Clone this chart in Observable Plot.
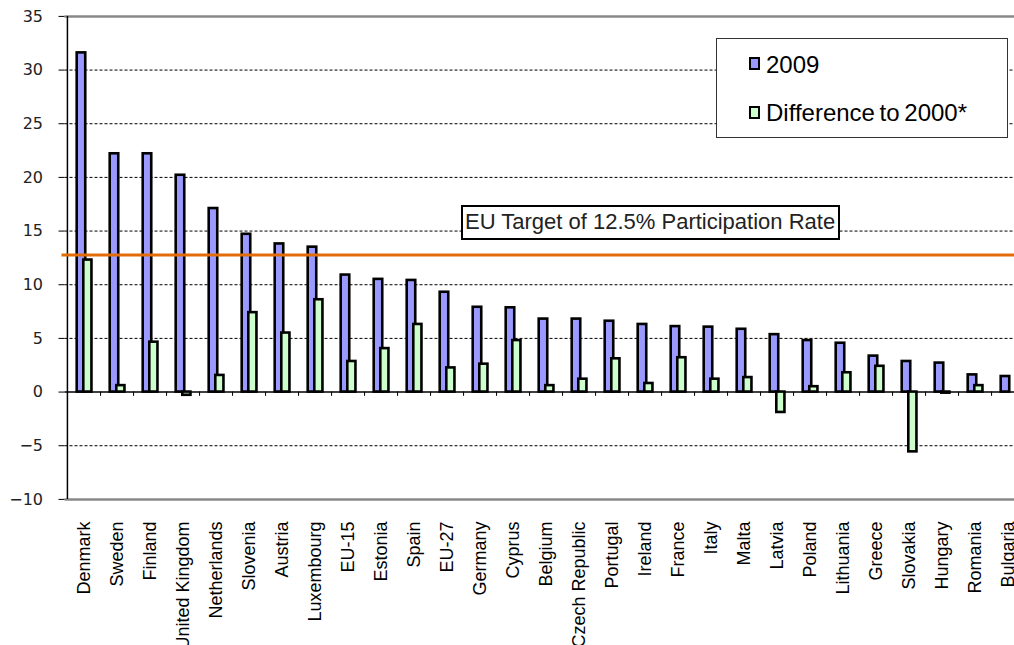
<!DOCTYPE html>
<html>
<head>
<meta charset="utf-8">
<script src="https://cdn.jsdelivr.net/npm/d3@7"></script>
<script src="https://cdn.jsdelivr.net/npm/@observablehq/plot@0.6"></script>
<style>
  html, body { margin: 0; padding: 0; overflow: hidden; background: #fff; }
  #wrap { position: relative; width: 1014px; height: 645px; overflow: hidden; background: #fff; }
  #chart { position: absolute; left: 0; top: 0; width: 1030px; }
  #chart svg { max-width: none !important; }
  .legend { position: absolute; left: 716px; top: 38px; width: 292px; height: 100px; border: 1px solid #333; background: #fff; box-sizing: border-box; }
  .sw { position: absolute; width: 11px; height: 13px; border: 2px solid #000; box-sizing: border-box; }
  .lt { position: absolute; font-family: "Liberation Sans", Arial, sans-serif; font-size: 24px; line-height: 24px; color: #000; white-space: nowrap; word-spacing: -2px; }
  .target { position: absolute; left: 461px; top: 205px; width: 379px; height: 35px; border: 2px solid #000; background: #fff; box-sizing: border-box; }
  .tt { position: absolute; left: 465px; top: 211px; font-family: "Liberation Sans", Arial, sans-serif; font-size: 22px; line-height: 22px; color: #222; white-space: nowrap; }
</style>
</head>
<body>
<div id="wrap">
  <div id="chart"></div>
</div>
<script>
const countries = ["Denmark","Sweden","Finland","United Kingdom","Netherlands","Slovenia","Austria","Luxembourg","EU-15","Estonia","Spain","EU-27","Germany","Cyprus","Belgium","Czech Republic","Portugal","Ireland","France","Italy","Malta","Latvia","Poland","Lithuania","Greece","Slovakia","Hungary","Romania","Bulgaria"];
const v2009 = [31.6, 22.2, 22.2, 20.2, 17.1, 14.7, 13.8, 13.5, 10.9, 10.5, 10.4, 9.3, 7.9, 7.85, 6.8, 6.8, 6.6, 6.3, 6.1, 6.05, 5.85, 5.35, 4.8, 4.55, 3.35, 2.85, 2.7, 1.6, 1.45];
const diff2000 = [12.3, 0.6, 4.65, -0.3, 1.55, 7.4, 5.5, 8.6, 2.85, 4.05, 6.3, 2.25, 2.6, 4.8, 0.6, 1.2, 3.1, 0.8, 3.2, 1.2, 1.35, -1.9, 0.5, 1.8, 2.4, -5.57, -0.1, 0.6, null];
const seriesNames = ["2009", "Difference to 2000*"];
const seriesColors = ["#9999FF", "#CCFFCC"];
const yTicks = [-10, -5, 0, 5, 10, 15, 20, 25, 30, 35];
const gridTicks = [-5, 5, 10, 15, 20, 25, 30];
const targetLine = 12.78;
const targetLabel = "EU Target of 12.5% Participation Rate";

const W = 1026, ML = 64.5;
const bw = (W - ML) / countries.length;
const rows = countries.map((c, i) => ({country: c, v2009: v2009[i], diff: diff2000[i]}));

const chart = Plot.plot({
  width: W,
  height: 645,
  marginTop: 15.9,
  marginBottom: 146.1,
  marginLeft: ML,
  marginRight: 0,
  x: {type: "band", domain: countries, padding: 0},
  y: {domain: [-10, 35]},
  style: {fontFamily: "'Liberation Sans', Arial, sans-serif", fontSize: "18px", color: "#000", background: "#fff", overflow: "visible", maxWidth: "none"},
  marks: [
    Plot.gridY({ticks: gridTicks, stroke: "#000", strokeOpacity: 1, strokeWidth: 1, strokeDasharray: "3,2"}),
    Plot.ruleY([35], {stroke: "#888", strokeWidth: 2.5}),
    Plot.ruleY([-10], {stroke: "#888", strokeWidth: 2.5}),
    Plot.ruleY([0], {stroke: "#000", strokeWidth: 1.5}),
    Plot.barY(rows, {x: "country", y: "v2009", fill: seriesColors[0], stroke: "#000", strokeWidth: 2.6, insetLeft: 9.7, insetRight: 14.75}),
    Plot.barY(rows.filter(d => d.diff != null), {x: "country", y: "diff", fill: seriesColors[1], stroke: "#000", strokeWidth: 2.6, insetLeft: 16.3, insetRight: 8.55}),
    Plot.ruleX(countries, {x: d => d, dx: bw / 2, y1: 0, y2: -0.4, stroke: "#000", strokeWidth: 1}),
    Plot.ruleX([countries[0]], {x: d => d, dx: -bw / 2, y1: -10, y2: 35, stroke: "#000", strokeWidth: 1.5}),
    Plot.ruleY([targetLine], {stroke: "#E36C09", strokeWidth: 3, insetLeft: -3}),
    Plot.axisY({ticks: yTicks, tickSize: 6, tickPadding: 16, fontFamily: "'DejaVu Sans', sans-serif", fontSize: 16, fill: "#222", label: null}),
    Plot.axisX({tickRotate: -90, tickSize: 0, tickPadding: 22, fontSize: 18, label: null})
  ]
});
document.getElementById("chart").appendChild(chart);

const wrap = document.getElementById("wrap");
// legend
const lg = document.createElement("div");
lg.className = "legend";
wrap.appendChild(lg);
const legendRows = [{sq: 57, tx: 52.5}, {sq: 106, tx: 100.5}];
seriesNames.forEach((name, i) => {
  const sw = document.createElement("div");
  sw.className = "sw";
  sw.style.left = "749px";
  sw.style.top = legendRows[i].sq + "px";
  sw.style.background = seriesColors[i];
  wrap.appendChild(sw);
  const t = document.createElement("div");
  t.className = "lt";
  t.style.left = "766px";
  t.style.top = legendRows[i].tx + "px";
  t.textContent = name;
  wrap.appendChild(t);
});
// target label
const tb = document.createElement("div");
tb.className = "target";
wrap.appendChild(tb);
const tt = document.createElement("div");
tt.className = "tt";
tt.textContent = targetLabel;
wrap.appendChild(tt);
</script>
</body>
</html>
